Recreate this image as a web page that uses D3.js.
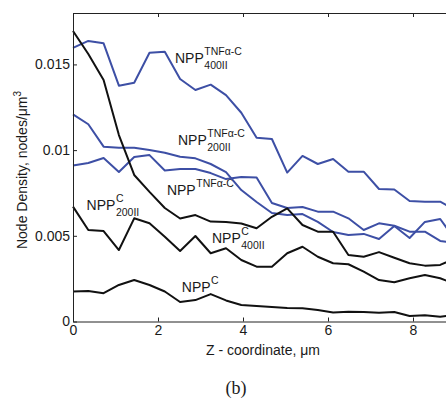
<!DOCTYPE html>
<html>
<head>
<meta charset="utf-8">
<script src="https://cdn.jsdelivr.net/npm/d3@7"></script>
<style>
body { margin: 0; background: #fff; }
text { font-family: "Liberation Sans", Arial, Helvetica, sans-serif; fill: #1a1a1a; }
</style>
</head>
<body>
<svg width="446" height="399"></svg>
<script>
// z positions of the samples, um
let zCoord = [0, 0.36, 0.72, 1.08, 1.44, 1.8, 2.16, 2.52, 2.88, 3.24, 3.6, 3.96, 4.32,
	4.68, 5.04, 5.4, 5.76, 6.12, 6.48, 6.84, 7.2, 7.56, 7.92, 8.28, 8.64, 9.0];

// node density, nodes/um^3
let tnf400 = [0.01597, 0.01637, 0.01623, 0.01376, 0.01393, 0.01568, 0.01574, 0.01415, 0.01351,
	0.01382, 0.01321, 0.01218, 0.01072, 0.01065, 0.00869, 0.00966, 0.00919, 0.00948, 0.00874,
	0.00874, 0.00773, 0.00770, 0.00703, 0.00699, 0.00699, 0.00651];
let tnf200 = [0.01209, 0.01151, 0.01020, 0.01014, 0.01014, 0.01001, 0.00985, 0.00961, 0.00952,
	0.00919, 0.00872, 0.00767, 0.00697, 0.00633, 0.00621, 0.00627, 0.00581, 0.00522, 0.00505,
	0.00511, 0.00481, 0.00557, 0.00487, 0.00581, 0.00598, 0.00476];
let tnf = [0.00910, 0.00925, 0.00954, 0.00872, 0.00960, 0.00971, 0.00881, 0.00890, 0.00890,
	0.00866, 0.00831, 0.00843, 0.00840, 0.00691, 0.00662, 0.00668, 0.00641, 0.00641, 0.00602,
	0.00534, 0.00573, 0.00559, 0.00524, 0.00524, 0.00470, 0.00458];
let c400 = [0.01695, 0.01561, 0.01409, 0.01088, 0.00855, 0.00756, 0.00662, 0.00601, 0.00621,
	0.00583, 0.00581, 0.00572, 0.00544, 0.00611, 0.00660, 0.00563, 0.00524, 0.00524, 0.00388,
	0.00378, 0.00405, 0.00372, 0.00340, 0.00326, 0.00330, 0.00370];
let c200 = [0.00670, 0.00534, 0.00528, 0.00417, 0.00602, 0.00573, 0.00495, 0.00411, 0.00499,
	0.00398, 0.00427, 0.00359, 0.00320, 0.00320, 0.00398, 0.00436, 0.00378, 0.00340, 0.00334,
	0.00291, 0.00242, 0.00229, 0.00252, 0.00271, 0.00252, 0.00219];
let cPlain = [0.00175, 0.00178, 0.00165, 0.00213, 0.00242, 0.00213, 0.00175, 0.00114, 0.00125,
	0.00160, 0.00123, 0.00096, 0.00090, 0.00085, 0.00079, 0.00077, 0.00067, 0.00053, 0.00057,
	0.00055, 0.00051, 0.00055, 0.00032, 0.00036, 0.00028, 0.00038];

let xTicks = [0, 2, 4, 6, 8];
let yTicks = [0, 0.005, 0.01, 0.015];
let yTickLabels = ["0", "0.005", "0.01", "0.015"];

// curve labels: anchor in data units (z, density)
let labels = [
	{ main: "NPP", sup: "TNF\u03b1-C", sub: "400II", z: 2.4, v: 0.01508 },
	{ main: "NPP", sup: "TNF\u03b1-C", sub: "200II", z: 2.47, v: 0.0103 },
	{ main: "NPP", sup: "TNF\u03b1-C", sub: "", z: 2.21, v: 0.00738 },
	{ main: "NPP", sup: "C", sub: "200II", z: 0.32, v: 0.0065 },
	{ main: "NPP", sup: "C", sub: "400II", z: 3.27, v: 0.00458 },
	{ main: "NPP", sup: "C", sub: "", z: 2.56, v: 0.00172 }
];

let series = [
	{ values: tnf400, color: "#3d4fa5" },
	{ values: tnf200, color: "#3d4fa5" },
	{ values: tnf, color: "#3d4fa5" },
	{ values: c400, color: "#111" },
	{ values: c200, color: "#111" },
	{ values: cPlain, color: "#111" }
];

let svg = d3.select("svg"),
	mLeft = 73, mRight = 498,
	mTop = 13, mBottom = 321.5;

let x = d3.scaleLinear().domain([0, 10]).range([mLeft, mRight]);
let y = d3.scaleLinear().domain([0, 0.018]).range([mBottom, mTop]);

// labels first, the curves run over them
let glab = svg.append("g").attr("class", "labels");
labels.forEach(d => {
	let t = glab.append("text")
		.attr("x", x(d.z)).attr("y", y(d.v))
		.attr("font-size", 14)
		.text(d.main);
	let w = t.node().getComputedTextLength();
	glab.append("text")
		.attr("x", x(d.z) + w + 0.5).attr("y", y(d.v) - 8)
		.attr("font-size", 10.5)
		.text(d.sup);
	if (d.sub) {
		glab.append("text")
			.attr("x", x(d.z) + w + 0.5).attr("y", y(d.v) + 6)
			.attr("font-size", 10.5)
			.text(d.sub);
	}
});

let line = d3.line()
	.x((d, i) => x(zCoord[i]))
	.y(d => y(d));

svg.append("g").attr("class", "lines")
	.selectAll("path")
	.data(series)
	.enter().append("path")
		.attr("fill", "none")
		.attr("stroke", d => d.color)
		.attr("stroke-width", 2)
		.attr("stroke-linejoin", "round")
		.attr("d", d => line(d.values));

// axes, matlab style ticks pointing in
let gx = svg.append("g")
	.attr("transform", `translate(0,${mBottom})`)
	.call(d3.axisBottom(x).tickValues(xTicks).tickSizeInner(-4).tickSizeOuter(0).tickPadding(4));
let gy = svg.append("g")
	.attr("transform", `translate(${mLeft},0)`)
	.call(d3.axisLeft(y).tickValues(yTicks).tickFormat((d, i) => yTickLabels[i])
		.tickSizeInner(-4).tickSizeOuter(0).tickPadding(3));
let gt = svg.append("g")
	.attr("transform", `translate(0,${mTop})`)
	.call(d3.axisTop(x).tickValues(xTicks).tickFormat("").tickSizeInner(-4).tickSizeOuter(0));

[gx, gy, gt].forEach(g => {
	g.selectAll("path, line").attr("stroke", "#222").attr("stroke-width", 1);
	g.selectAll("text").attr("font-size", 14).attr("font-family", null).attr("fill", "#1a1a1a");
});

svg.append("text")
	.attr("x", 263).attr("y", 355)
	.attr("text-anchor", "middle")
	.attr("font-size", 14)
	.text("Z - coordinate, \u03bcm");

let yt = svg.append("text")
	.attr("transform", "translate(27,170) rotate(-90)")
	.attr("text-anchor", "middle")
	.attr("font-size", 14);
yt.append("tspan").text("Node Density, nodes/\u03bcm");
yt.append("tspan").attr("dy", -6).attr("font-size", 10).text("3");

svg.append("text")
	.attr("x", 236).attr("y", 394)
	.attr("text-anchor", "middle")
	.attr("font-size", 18)
	.style("font-family", "'Liberation Serif', 'Times New Roman', serif")
	.text("(b)");
</script>
</body>
</html>
